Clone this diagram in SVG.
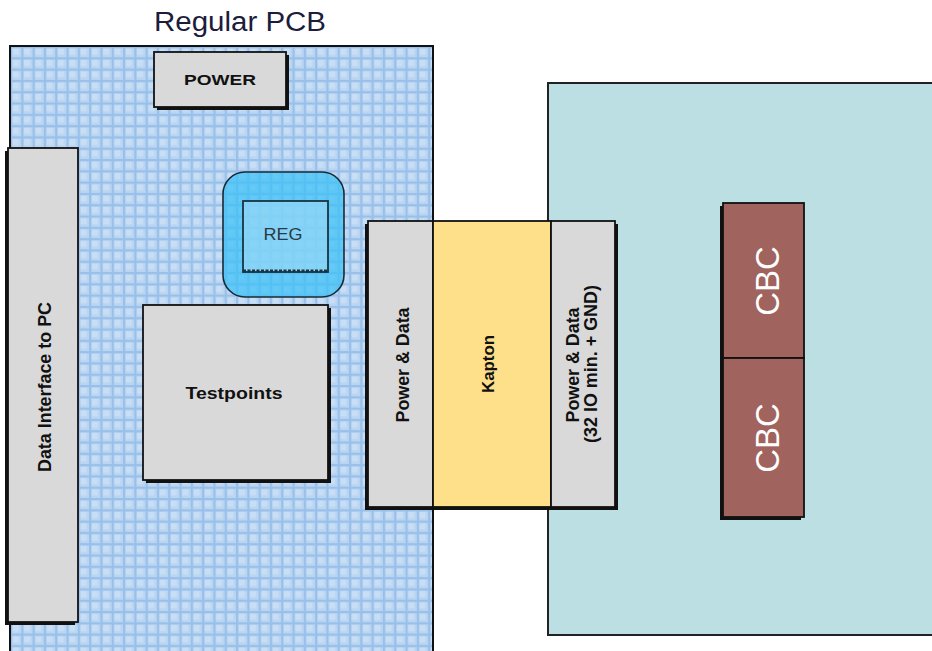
<svg xmlns="http://www.w3.org/2000/svg" width="932" height="651" viewBox="0 0 932 651">
<defs>
<pattern id="grid" x="10" y="46" width="11.3" height="11.3" patternUnits="userSpaceOnUse">
<rect width="11.3" height="11.3" fill="#BAD5F1"/>
<rect x="2.5" y="2.5" width="6.3" height="6.3" fill="#C8DEF5"/>
<rect x="0" y="0" width="2.2" height="11.3" fill="#98C0EA"/>
<rect x="0" y="0" width="11.3" height="2.2" fill="#98C0EA"/>
</pattern>
<style>
.box{fill:#D9D9D9;stroke:#111;stroke-width:1.8}
.sh{fill:#111}
.lbl{font-family:"Liberation Sans",Arial,sans-serif;font-weight:bold;fill:#111;text-anchor:middle}
.cbc{font-family:"Liberation Sans",Arial,sans-serif;fill:#fff;text-anchor:middle;font-size:33px}
</style>
</defs>
<rect width="932" height="651" fill="#fff"/>

<g id="title">
<text x="240" y="31" font-family="Liberation Sans, Arial, sans-serif" font-size="27" fill="#1c1c3c" text-anchor="middle" textLength="172" lengthAdjust="spacingAndGlyphs">Regular PCB</text>
</g>

<g id="regular-pcb">
<rect x="10" y="46" width="423" height="612" fill="url(#grid)" stroke="#111" stroke-width="2"/>
</g>

<g id="cbc-board">
<rect x="548" y="83" width="400" height="552" fill="#BBDFE2" stroke="#222" stroke-width="2"/>
</g>

<g id="power">
<rect class="sh" x="157" y="55" width="132" height="55"/>
<rect class="box" x="154" y="52" width="132" height="55"/>
<text class="lbl" x="220" y="85" font-size="15" textLength="72" lengthAdjust="spacingAndGlyphs">POWER</text>
</g>

<g id="data-interface">
<rect class="sh" x="5" y="151" width="70" height="474"/>
<rect class="box" x="8" y="148" width="70" height="474"/>
<text class="lbl" transform="translate(51,387) rotate(-90)" font-size="19" textLength="170" lengthAdjust="spacingAndGlyphs">Data Interface to PC</text>
</g>

<g id="reg">
<rect x="223" y="172" width="121" height="125" rx="22" fill="#38C0F6" fill-opacity="0.7" stroke="#1a2a35" stroke-width="1.6"/>
<rect x="243" y="201" width="85" height="71" fill="#A6DDF5" fill-opacity="0.55" stroke="#1a3340" stroke-width="1.8"/>
<line x1="243" y1="271" x2="328" y2="271" stroke="#1a3340" stroke-width="3" stroke-dasharray="3 1.5"/>
<text x="283" y="240" font-family="Liberation Sans, Arial, sans-serif" font-size="17" fill="#2a3a44" text-anchor="middle" textLength="39" lengthAdjust="spacingAndGlyphs">REG</text>
</g>

<g id="testpoints">
<rect class="sh" x="146" y="308" width="185" height="175"/>
<rect class="box" x="143" y="305" width="185" height="175"/>
<text class="lbl" x="234" y="399" font-size="17" textLength="97" lengthAdjust="spacingAndGlyphs">Testpoints</text>
</g>

<g id="connector-shadow">
<rect class="sh" x="365" y="224" width="253" height="286"/>
</g>

<g id="power-data-left">
<rect class="box" x="368" y="221" width="65" height="286"/>
<text class="lbl" transform="translate(409,365) rotate(-90)" font-size="19" textLength="115" lengthAdjust="spacingAndGlyphs">Power &amp; Data</text>
</g>

<g id="kapton">
<rect x="433" y="221" width="118" height="286" fill="#FDE089" stroke="#111" stroke-width="1.8"/>
<text class="lbl" transform="translate(494,364) rotate(-90)" font-size="16" textLength="58" lengthAdjust="spacingAndGlyphs">Kapton</text>
</g>

<g id="power-data-right">
<rect class="box" x="551" y="221" width="64" height="286"/>
<text class="lbl" transform="translate(579,365) rotate(-90)" font-size="19" textLength="115" lengthAdjust="spacingAndGlyphs">Power &amp; Data</text>
<text class="lbl" transform="translate(597,364) rotate(-90)" font-size="19" textLength="158" lengthAdjust="spacingAndGlyphs">(32 IO min. + GND)</text>
</g>

<g id="cbc-top">
<rect class="sh" x="720" y="206" width="81" height="155"/>
<rect x="723" y="203" width="81" height="155" fill="#A0635E" stroke="#111" stroke-width="1.8"/>
<text class="cbc" transform="translate(779,281) rotate(-90)">CBC</text>
</g>

<g id="cbc-bottom">
<rect class="sh" x="720" y="361" width="81" height="159"/>
<rect x="723" y="358" width="81" height="159" fill="#A0635E" stroke="#111" stroke-width="1.8"/>
<text class="cbc" transform="translate(779,438) rotate(-90)">CBC</text>
</g>

<g id="connectors"></g>
</svg>
